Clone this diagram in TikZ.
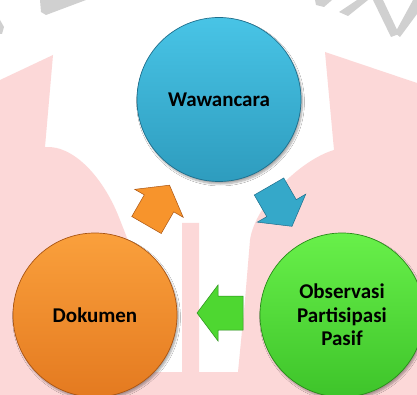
\documentclass[tikz,border=0pt]{standalone}
\usepackage{fontspec}
\setmainfont{Carlito}
\usetikzlibrary{shadows.blur}
\definecolor{wmpink}{RGB}{252,216,216}
\definecolor{wmgray}{RGB}{208,208,208}
\definecolor{bluetop}{RGB}{72,196,230}
\definecolor{bluemid}{RGB}{58,183,218}
\definecolor{bluebot}{RGB}{46,156,190}
\definecolor{blueline}{RGB}{30,110,140}
\definecolor{orgtop}{RGB}{250,160,60}
\definecolor{orgmid}{RGB}{247,148,44}
\definecolor{orgbot}{RGB}{228,122,32}
\definecolor{orgline}{RGB}{170,85,20}
\definecolor{grntop}{RGB}{104,240,74}
\definecolor{grnmid}{RGB}{82,226,52}
\definecolor{grnbot}{RGB}{62,196,42}
\definecolor{grnline}{RGB}{40,140,25}
\begin{document}
\begin{tikzpicture}[x=1pt,y=-1pt,
  bubble/.style={circle, minimum size=164pt, inner sep=0pt, align=center,
    font=\fontsize{21}{23.5}\selectfont\bfseries, text=black, line width=0.7pt,
    blur shadow={shadow xshift=1.5pt, shadow yshift=-2.5pt, shadow blur steps=6, shadow opacity=35}},
  bluebubble/.style={bubble, draw=blueline, top color=bluetop, middle color=bluemid, bottom color=bluebot},
  orgbubble/.style={bubble, draw=orgline, top color=orgtop, middle color=orgmid, bottom color=orgbot},
  grnbubble/.style={bubble, draw=grnline, top color=grntop, middle color=grnmid, bottom color=grnbot},
  blockarr/.pic={\path[pic actions] (0,-17) -- (25,-17) -- (25,-28) -- (46,0) -- (25,28) -- (25,17) -- (0,17) -- cycle;},
  arrstyle/.style={line width=0.5pt, line join=miter}
]
\useasboundingbox (0,0) rectangle (417,395);
\fill[white] (0,0) rectangle (417,395);
% watermark
\fill[wmpink] (0,80) -- (53,55) -- (45,147) .. controls (75,145) and (105,180) .. (120,220)
  .. controls (130,245) and (140,270) .. (140,300) -- (140,372) -- (182,372) -- (182,223) -- (199,223)
  -- (199,372) -- (238,372) -- (245,300) -- (250,240) .. controls (255,205) and (300,160) .. (334,150)
  -- (325,52) -- (417,83) -- (417,395) -- (0,395) -- cycle;
\fill[wmgray] (40,0) -- (86,0) -- (46,15) -- (41,12) -- cycle;
\fill[wmgray] (0,20) -- (4,27) -- (2,34) -- (0,34) -- cycle;
\fill[wmgray] (315,0) -- (332,0) -- (324,7) -- (316,5) -- cycle;
\fill[wmgray] (357,0) -- (368,0) -- (348,16) -- (339,12) -- cycle;
\fill[wmgray] (373,0) -- (383,0) -- (399,34) -- (391,37) -- cycle;
\fill[wmgray] (413,0) -- (417,0) -- (417,14) -- (400,37) -- (395,33) -- cycle;
% circles
\node[bluebubble] (waw) at (219,99.5) {Wawancara};
\node[orgbubble] (dok) at (95,315) {Dokumen};
\node[grnbubble] (obs) at (342,315) {Observasi\\Partisipasi\\Pasif};
% arrows
\coordinate (aOrg) at (146.5,225);
\coordinate (aBlue) at (269,186.5);
\coordinate (aGrn) at (243,313);
\pic[arrstyle, fill=orgmid, draw=orgline, rotate=60] at (aOrg) {blockarr};
\pic[arrstyle, fill=bluemid!92!black, draw=blueline, rotate=-60] at (aBlue) {blockarr};
\pic[arrstyle, fill=grnmid!95!black, draw=grnline, rotate=180] at (aGrn) {blockarr};
\end{tikzpicture}
\end{document}
